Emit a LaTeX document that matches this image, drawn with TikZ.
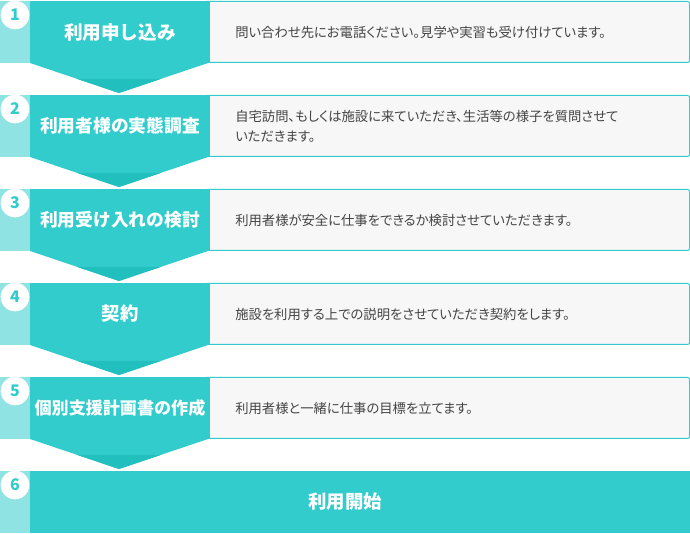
\documentclass[tikz,border=0pt]{standalone}
\usepackage{fontspec}
\newfontfamily\jp{Noto Sans CJK JP}
\newfontfamily\jpp{Noto Sans CJK JP}[RawFeature=+palt]
\definecolor{tealA}{HTML}{33CCCC}
\definecolor{tealB}{HTML}{22BFBF}
\definecolor{stripe}{HTML}{8FE3E3}
\definecolor{panel}{HTML}{F7F7F7}
\definecolor{txt}{HTML}{444444}
\tikzset{
  titletext/.style={text=white, font=\jp\bfseries, inner sep=0pt},
  desctext/.style={text=txt, font=\jpp\fontsize{10}{15}\selectfont, anchor=west, align=left, inner sep=0pt},
  numbadge/.style={circle, fill=white, minimum size=21.5pt, inner sep=0pt, text=tealA, font=\jp\bfseries\fontsize{12}{14}\selectfont},
}
\begin{document}
\begin{tikzpicture}[x=0.75pt,y=-0.75pt]
\useasboundingbox (0,0) rectangle (690,534);
\fill[white] (0,0) rectangle (690,534);
\foreach \i/\sz/\lab/\desc in {
  1/14/{利用申し込み}/{問い合わせ先にお電話ください。見学や実習も受け付けています。},
  2/13.3/{利用者様の実態調査}/{自宅訪問、もしくは施設に来ていただき、生活等の様子を質問させて\\いただきます。},
  3/13.3/{利用受け入れの検討}/{利用者様が安全に仕事をできるか検討させていただきます。},
  4/13.8/{契約}/{施設を利用する上での説明をさせていただき契約をします。},
  5/12.8/{個別支援計画書の作成}/{利用者様と一緒に仕事の目標を立てます。}}{
  \pgfmathsetmacro{\t}{1+(\i-1)*94}
  % description panel
  \draw[tealA, fill=panel, line width=0.75pt, rounded corners=1.5pt] (205,\t+0.5) rectangle (689.5,\t+61.5);
  % teal title box with striped left edge
  \fill[tealA] (30,\t) rectangle (210,\t+62);
  \fill[stripe] (0,\t) rectangle (30,\t+62);
  % arrow
  \fill[tealA] (30,\t+62) -- (208,\t+62) -- (119,\t+92) -- cycle;
  \fill[tealB] (77.5,\t+78) -- (160.5,\t+78) -- (119,\t+92) -- cycle;
  \node[numbadge] (num\i) at (15,\t+14) {\i};
  \node[titletext] (title\i) at (120,\t+31) {\fontsize{\sz}{16}\selectfont\lab};
  \node[desctext] (desc\i) at (235,\t+31) {\desc};
}
% final row
\fill[tealA] (30,471) rectangle (690,533);
\fill[stripe] (0,471) rectangle (30,533);
\node[numbadge] (num6) at (15,485) {6};
\node[titletext] (title6) at (345,502) {\fontsize{13.8}{16}\selectfont 利用開始};
\end{tikzpicture}
\end{document}
